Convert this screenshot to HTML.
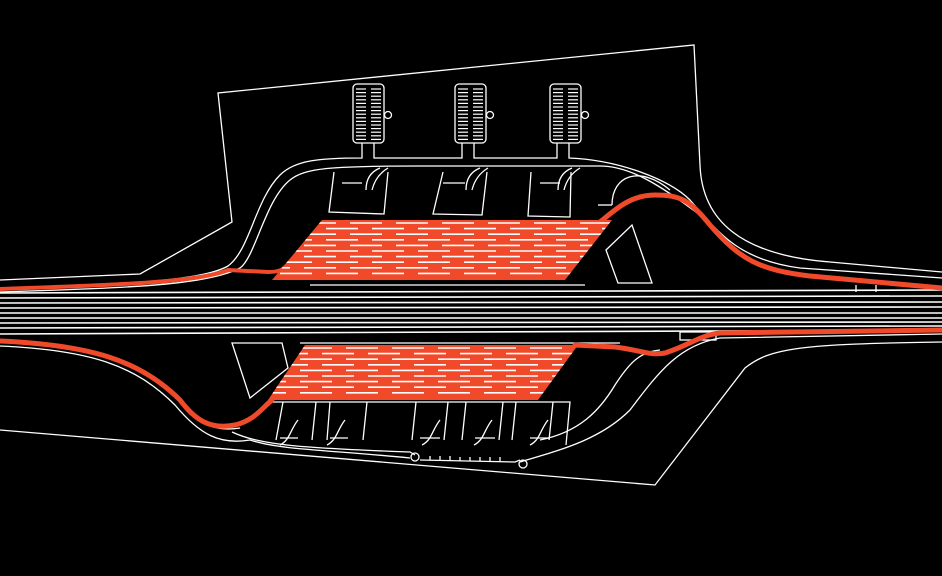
<!DOCTYPE html>
<html><head><meta charset="utf-8"><style>html,body{margin:0;padding:0;background:#000;width:942px;height:576px;overflow:hidden}svg{display:block}</style></head>
<body>
<svg id="s" width="942" height="576" viewBox="0 0 942 576" xmlns="http://www.w3.org/2000/svg">
<rect width="942" height="576" fill="#000"/>
<defs>
<clipPath id="ct"><polygon points="322,220 612,220 565,280 272,280"/></clipPath>
<clipPath id="cb"><polygon points="305,345 578,345 538,400 268,400"/></clipPath>
</defs>
<g fill="none" stroke="#fff" stroke-width="1.3">
<!-- site boundaries -->
<path d="M0,280 L140,274 L232,222 L218,93 L694,45 L700,165 C702,220 740,255 830,262 L942,272"/>
<path d="M0,430 L655,485 L745,368 C770,348 800,344 942,342"/>
<!-- highway lines -->
<g stroke-width="1.6">
<line x1="0" y1="293" x2="942" y2="290"/>
<line x1="0" y1="298" x2="942" y2="296"/>
<line x1="0" y1="303" x2="942" y2="302"/>
<line x1="0" y1="308" x2="942" y2="307"/>
<line x1="0" y1="313" x2="942" y2="313"/>
<line x1="0" y1="318" x2="942" y2="318"/>
<line x1="0" y1="323" x2="942" y2="322"/>
<line x1="0" y1="328" x2="942" y2="326"/>
<line x1="0" y1="334" x2="942" y2="330"/>
</g>
<!-- top roads -->
<path d="M0,288 C120,284 200,282 228,266 C250,250 255,200 280,175 C295,160 320,158 362,158 L362,143 M374,143 L374,158 L462,158 L462,143 M474,143 L474,158 L557,158 L557,143 M569,143 L569,158 C620,160 670,180 690,200 C720,235 740,260 800,268 L942,278"/>
<path d="M0,292 C120,288 205,286 240,268 C255,258 265,200 290,180 C305,168 330,166 420,166 L600,166 C630,166 660,185 700,215"/>
<path d="M612,205 C612,175 640,165 670,190"/>
<!-- towers -->
<rect x="353" y="84" width="31" height="59" rx="4"/><circle cx="388" cy="115" r="3.5"/>
<rect x="455" y="84" width="31" height="59" rx="4"/><circle cx="490" cy="115" r="3.5"/>
<rect x="550" y="84" width="31" height="59" rx="4"/><circle cx="585" cy="115" r="3.5"/>
<!-- top small blocks -->
<polyline points="334,172 329,212 384,214 388,172"/>
<polyline points="443,172 433,214 482,215 487,172"/>
<polyline points="531,172 528,216 570,217 571,172"/>
<polygon points="606,250 632,225 652,283 618,283"/>
<path d="M380,168 C370,172 366,180 366,190 M388,168 C378,174 374,182 372,190 M342,183 L362,183"/>
<path d="M480,168 C470,172 466,180 466,190 M488,168 C478,174 474,182 472,190 M443,183 L465,183"/>
<path d="M572,168 C562,172 558,180 558,190 M580,168 C570,174 566,182 564,190 M540,183 L560,183"/>
<path d="M598,205 L612,205"/>
<!-- bottom roads -->
<path d="M0,342 C90,346 140,360 180,400 C200,425 215,432 240,428"/>
<path d="M0,346 C90,350 135,365 175,405 C200,435 220,445 250,440"/>
<path d="M232,432 C260,445 300,448 410,452 L415,455"/>
<path d="M250,440 C280,450 330,450 410,458"/>
<path d="M520,462 C560,450 600,440 630,410 C660,370 680,345 720,338 L942,334"/>
<path d="M540,440 C580,432 600,410 615,385 C630,362 640,352 660,350"/>
<path d="M420,460 L515,462 L520,460"/>
<path d="M430,460v-4M440,460v-4M450,460v-4M460,461v-4M470,461v-4M480,461v-4M490,461v-4M500,461v-4"/>
<circle cx="415" cy="457" r="4"/><circle cx="523" cy="464" r="4"/>
<polygon points="232,343 282,343 288,368 250,398"/>
<polyline points="300,343 620,343"/>
<polyline points="270,402 570,402 566,445"/>
<path d="M283,402 L276,440 M316,402 L312,440 M330,402 L327,440 M367,402 L363,440 M416,402 L412,440 M448,402 L444,440 M466,402 L462,440 M503,402 L499,440 M516,402 L512,440 M553,402 L549,440"/>
<path d="M280,438 L298,438 M330,438 L348,438 M420,438 L440,438 M475,438 L495,438 M530,438 L550,438"/>
<path d="M298,420 C290,430 290,440 280,445 M345,420 C337,430 337,440 327,445 M440,420 C432,430 432,440 422,445 M492,420 C484,430 484,440 474,445 M548,420 C540,430 540,440 530,445"/>
<rect x="680" y="332" width="36" height="8"/>
<line x1="856" y1="285" x2="856" y2="292"/><line x1="876" y1="285" x2="876" y2="292"/>
</g>
<g id="stripes" stroke="#fff" stroke-width="1.2"></g>
<g fill="#f04a2a">
<polygon points="322,220 612,220 565,280 272,280"/>
<polygon points="305,345 578,345 538,400 268,400"/>
</g>
<g fill="none" stroke="#f04a2a" stroke-linecap="round">
<path d="M0,289 C120,285 200,282 228,270 L268,272 C280,272 283,270 290,262" stroke-width="4"/>
<path d="M600,222 C615,210 630,195 655,195 C680,195 690,200 710,225 C740,260 760,270 810,276 L942,288" stroke-width="5"/>
<path d="M0,341 C90,345 140,360 180,400 C195,420 210,430 235,425 C255,420 262,408 272,400" stroke-width="5"/>
<path d="M575,345 L615,347 C640,350 650,356 665,353 C690,345 700,335 720,333 L942,330" stroke-width="5"/>
</g>
<g id="pk" stroke="#fff" stroke-width="1.6"></g>
<g fill="none" stroke="#fff" stroke-width="1.2">
<polyline points="310,285 585,285"/>
</g>
</svg>
<script>
var ns="http://www.w3.org/2000/svg";
function ln(g,x1,y1,x2,y2,c){var l=document.createElementNS(ns,"line");l.setAttribute("x1",x1);l.setAttribute("y1",y1);l.setAttribute("x2",x2);l.setAttribute("y2",y2);if(c)l.setAttribute("clip-path",c);g.appendChild(l);}
var st=document.getElementById("stripes");
[353,455,550].forEach(function(x){for(var y=89;y<140;y+=3.6){ln(st,x+3,y,x+13,y);ln(st,x+18,y,x+28,y);}});
var pk=document.getElementById("pk");
function park(x0,x1,y0,y1,clip){var i=0;for(var y=y0+3;y<y1-2;y+=5.6,i++){var off=(i%2)*22;for(var x=x0-60+off;x<x1;x+=46){ln(pk,x,y,x+32,y,clip);}}}
park(272,612,220,280,"url(#ct)");
park(268,578,345,400,"url(#cb)");
</script>
</body></html>
